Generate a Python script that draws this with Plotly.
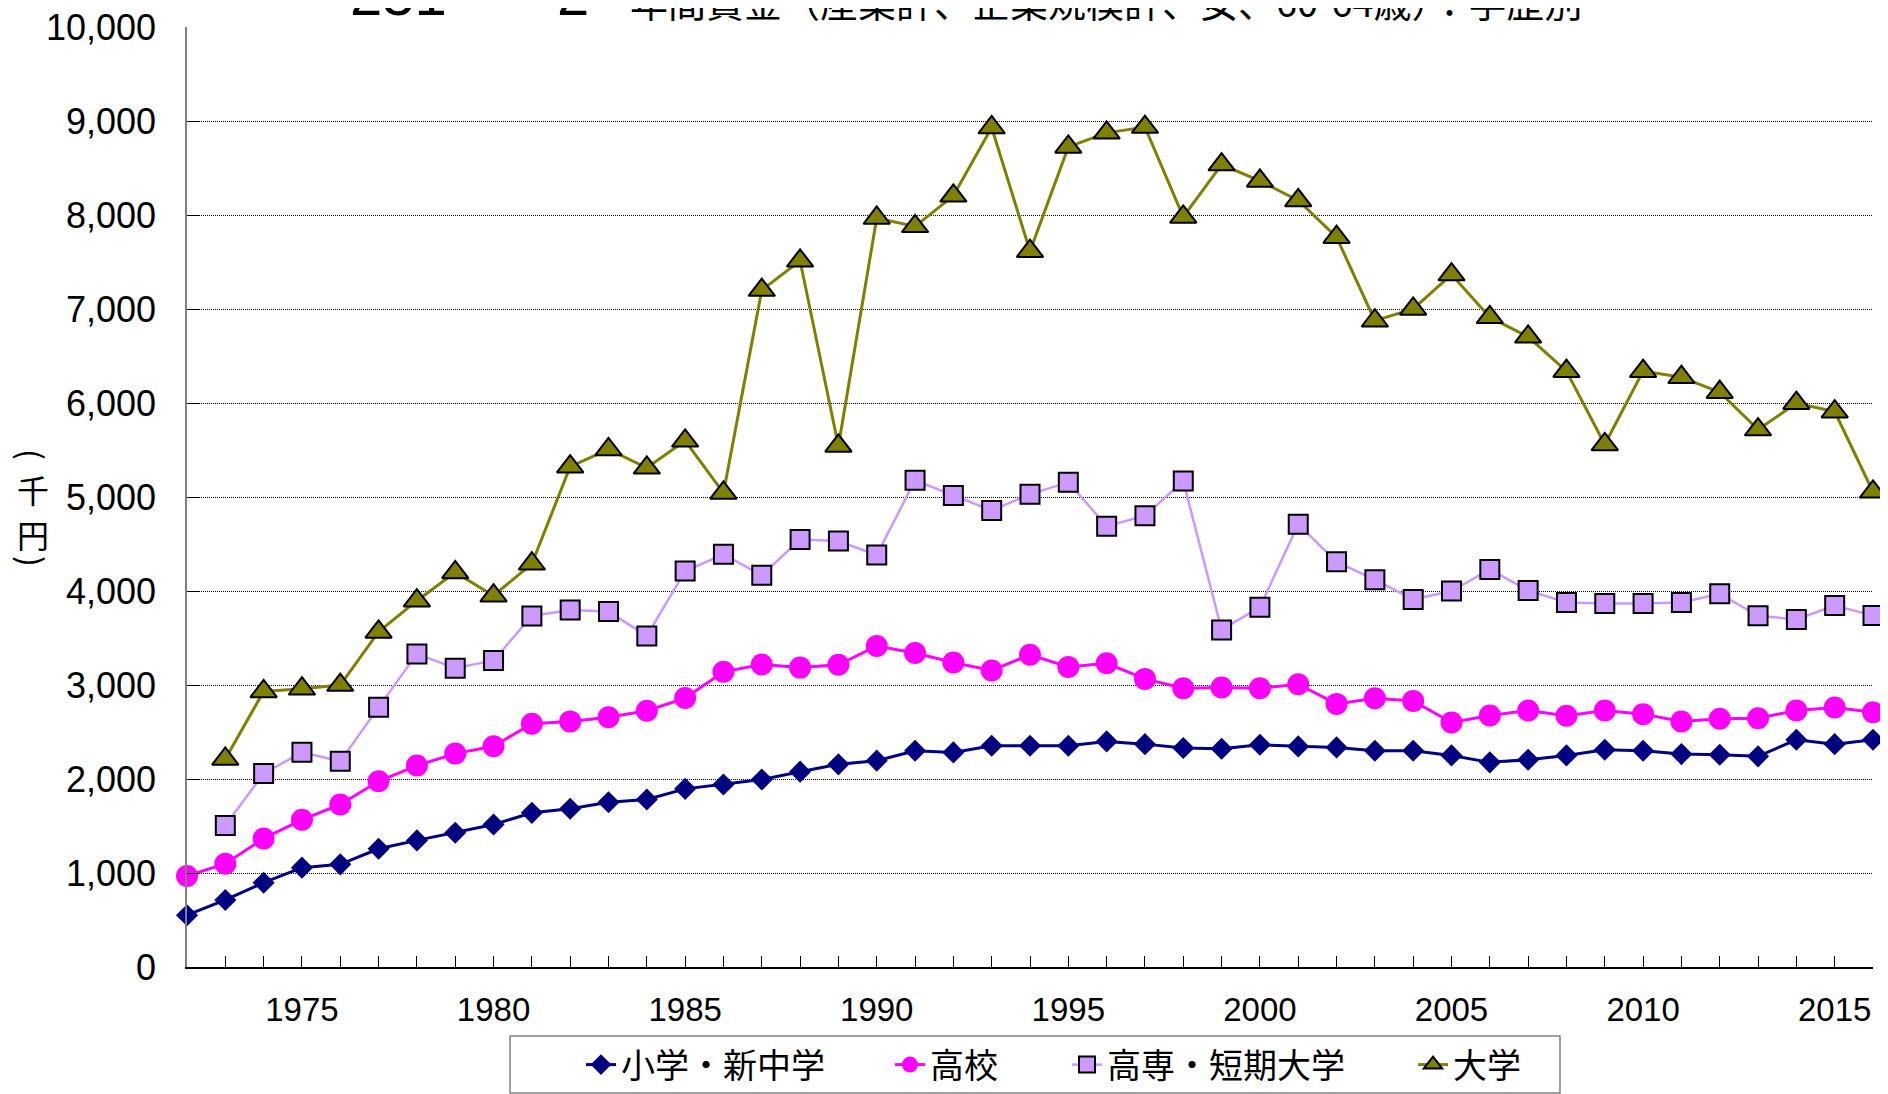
import plotly.graph_objects as go

years = list(range(1972, 2017))

elementary = [551, 713, 897, 1057, 1092, 1258, 1347, 1428, 1516, 1640, 1683, 1753, 1782, 1895,
              1941, 1994, 2078, 2156, 2195, 2301, 2283, 2354, 2354, 2354, 2400, 2371, 2329, 2322,
              2364, 2347, 2336, 2301, 2301, 2251, 2177, 2205, 2251, 2311, 2301, 2265, 2258, 2241,
              2417, 2371, 2417]
high_school = [968, 1099, 1368, 1566, 1729, 1976, 2143, 2270, 2348, 2588, 2613, 2656, 2726, 2861,
               3140, 3218, 3185, 3215, 3415, 3340, 3240, 3155, 3322, 3192, 3231, 3065, 2966, 2973,
               2966, 3008, 2799, 2860, 2831, 2601, 2676, 2729, 2672, 2729, 2690, 2612, 2640, 2647,
               2729, 2761, 2711]
junior_college = [None, 1506, 2058, 2284, 2189, 2762, 3331, 3179, 3261, 3735, 3798, 3781, 3522, 4212,
                  4390, 4168, 4548, 4532, 4382, 5178, 5015, 4857, 5028, 5158, 4690, 4800, 5170, 3586,
                  3828, 4711, 4310, 4120, 3910, 3999, 4230, 4006, 3878, 3868, 3868, 3878, 3970, 3737,
                  3698, 3846, 3740]
university = [None, 2213, 2932, 2960, 2999, 3565, 3897, 4198, 3950, 4290, 5322, 5506, 5311, 5598,
              5043, 7201, 7513, 5543, 7968, 7879, 8204, 8931, 7615, 8724, 8874, 8935, 7980, 8537,
              8362, 8155, 7764, 6875, 7001, 7366, 6911, 6704, 6339, 5559, 6339, 6274, 6115, 5717,
              5998, 5908, 5055]

series_names = ["小学・新中学", "高校", "高専・短期大学", "大学"]
x_tick_years = [1975, 1980, 1985, 1990, 1995, 2000, 2005, 2010, 2015]
y_ticks = list(range(0, 10001, 1000))

title_num1 = "251"
title_num2 = "2"
title_text = "年間賃金（産業計、企業規模計、女、60-64歳）：学歴別"
y_label_chars = ["(", "千", "円", ")"]

JP = "Noto Sans CJK JP"
NUM = "Liberation Sans, Arial, " + JP

# figure size (page body adds an 8px margin) and plot-area geometry
OFF = 8
W, H = 1880, 1086
L, R, T, B = 179, 15, 19, 127
PW, PH = W - L - R, H - T - B


def px_x(x):  # screen x -> paper x
    return (x - OFF - L) / PW


def px_y(y):  # screen y -> paper y
    return (H - B - (y - OFF)) / PH


fig = go.Figure()

fig.add_trace(go.Scatter(
    x=years, y=elementary, name=series_names[0], mode="lines+markers",
    line=dict(color="#000080", width=3),
    marker=dict(symbol="diamond", size=17, color="#000080", line=dict(width=0)),
    cliponaxis=False, legendwidth=264))
fig.add_trace(go.Scatter(
    x=years, y=high_school, name=series_names[1], mode="lines+markers",
    line=dict(color="#FF00FF", width=3),
    marker=dict(symbol="circle", size=22, color="#FF00FF", line=dict(width=0)),
    cliponaxis=False, legendwidth=132))
fig.add_trace(go.Scatter(
    x=years, y=junior_college, name=series_names[2], mode="lines+markers",
    line=dict(color="#CC99FF", width=2.5),
    marker=dict(symbol="square", size=19, color="#CC99FF", line=dict(width=2, color="#000000")),
    cliponaxis=False, legendwidth=301))
fig.add_trace(go.Scatter(
    x=years, y=university, name=series_names[3], mode="lines+markers",
    line=dict(color="#808000", width=3),
    marker=dict(symbol="triangle-up", size=23, color="#808000", line=dict(width=2, color="#000000")),
    cliponaxis=False, legendwidth=80))

annotations = [
    dict(text=title_num1, xref="paper", yref="paper", x=px_x(398), y=1,
         xanchor="center", yanchor="bottom", yshift=-2, showarrow=False,
         font=dict(family=NUM, size=58, color="black")),
    dict(text=title_num2, xref="paper", yref="paper", x=px_x(573), y=1,
         xanchor="center", yanchor="bottom", yshift=-2, showarrow=False,
         font=dict(family=NUM, size=58, color="black")),
    dict(text=title_text, xref="paper", yref="paper", x=px_x(628), y=1,
         xanchor="left", yanchor="bottom", yshift=-3, showarrow=False,
         font=dict(family=JP, size=38, color="black")),
]
label_y = [454, 489, 534, 561]
for ch, yy in zip(y_label_chars, label_y):
    annotations.append(dict(
        text=ch, xref="paper", yref="paper", x=px_x(33), y=px_y(yy),
        xanchor="center", yanchor="middle", showarrow=False,
        textangle=90 if ch in "()" else 0,
        font=dict(family=JP, size=32, color="black")))

fig.update_layout(
    width=W, height=H,
    margin=dict(l=L, r=R, t=T, b=B, autoexpand=False),
    paper_bgcolor="white", plot_bgcolor="white",
    font=dict(family=NUM, color="black", size=32),
    showlegend=True,
    legend=dict(
        orientation="h", x=px_x(581), xanchor="left", y=px_y(1036), yanchor="top",
        borderwidth=0, bgcolor="rgba(0,0,0,0)",
        font=dict(family=JP, size=34, color="black"),
        itemsizing="trace",
    ),
    xaxis=dict(
        range=[1972, 2016], showgrid=False, zeroline=False, automargin=False,
        showline=True, linecolor="#000000", linewidth=1.5,
        tickmode="array", tickvals=x_tick_years, ticktext=[str(v) for v in x_tick_years],
        ticks="inside", ticklen=11, tickcolor="#000000", tickwidth=1,
        minor=dict(tick0=1972, dtick=1, ticks="inside", ticklen=11, tickcolor="#000000", tickwidth=1),
        tickfont=dict(family=NUM, size=33, color="black"),
        ticklabelstandoff=13, ticklabeloverflow="allow",
    ),
    yaxis=dict(
        range=[0, 10000], showgrid=True, gridcolor="#000000", gridwidth=1, griddash="1px,1px",
        zeroline=False, showline=True, linecolor="#808080", linewidth=1.5, automargin=False,
        tickmode="array", tickvals=y_ticks, ticktext=[f"{v:,}" for v in y_ticks],
        ticks="inside", ticklen=12, tickcolor="#000000", tickwidth=1,
        tickfont=dict(family=NUM, size=36, color="black"),
        ticklabelstandoff=22, ticklabeloverflow="allow",
    ),
    annotations=annotations,
    shapes=[dict(type="rect", xref="paper", yref="paper",
                 x0=px_x(510), x1=px_x(1560), y0=px_y(1036), y1=px_y(1093),
                 line=dict(color="#808080", width=1.5), fillcolor="rgba(0,0,0,0)", layer="below")],
)

fig.write_html("out.html")
